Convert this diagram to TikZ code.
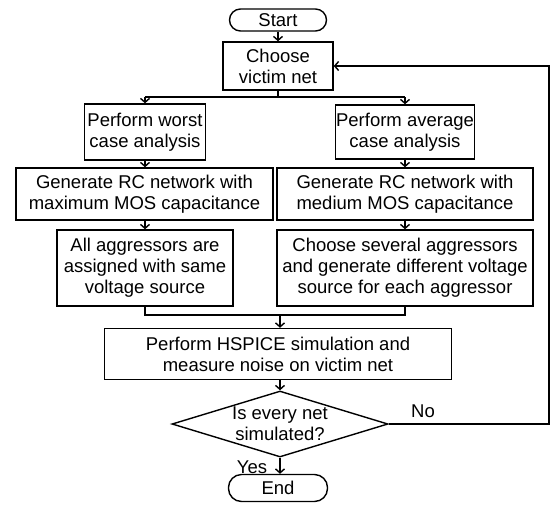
\documentclass[tikz,border=0pt]{standalone}
\usepackage{fontspec}
\setmainfont{Liberation Sans}
\usetikzlibrary{arrows.meta,shapes.geometric}

\tikzset{
  base/.style={draw, line width=1.4pt, inner sep=0pt, align=center,
    font=\fontsize{18.5}{21}\selectfont},
  box/.style={base, rectangle},
  term/.style={base, rectangle, rounded corners=#1},
  decision/.style={base, diamond, aspect=3.27},
  flow/.style={line width=1.4pt, -{Straight Barb[length=4pt,width=9pt,line width=1.4pt]}},
  link/.style={line width=1.4pt},
  lbl/.style={font=\fontsize{18.5}{21}\selectfont, inner sep=0pt},
}

\begin{document}
\begin{tikzpicture}[x=1pt, y=-1pt]
\useasboundingbox (0,0) rectangle (551,504);

% terminals and main column
\node[term=11pt, minimum width=97pt, minimum height=22pt] (start) at (278,20) {Start};
\node[box, minimum width=110pt, minimum height=48pt] (choose) at (278,66) {Choose\\victim net};

% left branch: worst case
\node[box, minimum width=121pt, minimum height=56pt] (worst) at (145,132) {Perform worst\\case analysis};
\node[box, minimum width=257pt, minimum height=52pt] (rcmax) at (144.5,194) {Generate RC network with\\maximum MOS capacitance};
\node[box, minimum width=176pt, minimum height=76pt] (same) at (145,268) {All aggressors are\\assigned with same\\voltage source};

% right branch: average case
\node[box, minimum width=139pt, minimum height=54pt] (avg) at (405,132) {Perform average\\case analysis};
\node[box, minimum width=256pt, minimum height=52pt] (rcmed) at (405,194) {Generate RC network with\\medium MOS capacitance};
\node[box, minimum width=256pt, minimum height=76pt] (several) at (405,268) {Choose several aggressors\\and generate different voltage\\source for each aggressor};

% merge, simulation and test
\node[box, minimum width=347pt, minimum height=51pt] (sim) at (278,354) {Perform HSPICE simulation and\\measure noise on victim net};
\node[decision, minimum width=216pt, minimum height=66pt] (done) at (280,424) {Is every net\\simulated?};
\node[term=13pt, minimum width=99pt, minimum height=27pt] (end) at (278,488) {End};

% junction points
\coordinate (splitL) at (145,97);
\coordinate (splitR) at (405,97);
\coordinate (mergeL) at (145,315);
\coordinate (mergeR) at (405,315);
\coordinate (mergeC) at (280,315);
\coordinate (loopB) at (549,424);
\coordinate (loopT) at (549,66);

% connectors
\draw[flow] (start) -- (choose);
\draw[link] (choose.south) -- (choose.south |- splitL);
\draw[link] (splitL) -- (splitR);
\draw[flow] (splitL) -- (worst.north -| splitL);
\draw[flow] (splitR) -- (avg.north -| splitR);
\draw[flow] (worst.south -| splitL) -- (rcmax.north -| splitL);
\draw[flow] (rcmax.south -| splitL) -- (same.north -| splitL);
\draw[flow] (avg.south -| splitR) -- (rcmed.north -| splitR);
\draw[flow] (rcmed.south -| splitR) -- (several.north -| splitR);
\draw[link] (same.south -| mergeL) -- (mergeL) -- (mergeR) -- (several.south -| mergeR);
\draw[flow] (mergeC) -- (sim.north -| mergeC);
\draw[flow] (sim.south -| mergeC) -- (done.north);
\draw[flow] (done.south) -- (end.north -| done.south);
\draw[flow] (done.east) -- (loopB) -- (loopT) -- (choose.east);

% branch labels
\node[lbl] (yes) at (252,467) {Yes};
\node[lbl] (no) at (423,411) {No};
\end{tikzpicture}
\end{document}
